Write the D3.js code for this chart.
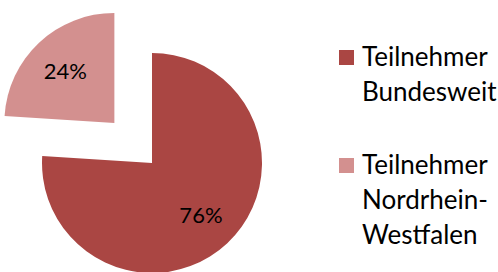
<!DOCTYPE html>
<html>
<head>
<meta charset="utf-8">
<script src="https://cdn.jsdelivr.net/npm/d3@7"></script>
<style>
  body { margin: 0; background: #fff; }
  svg { display: block; font-family: Lato, "Open Sans", sans-serif; }
</style>
</head>
<body>
<svg id="chart" width="498" height="272"></svg>
<script>
var categories = ["Teilnehmer Bundesweit", "Teilnehmer Nordrhein-Westfalen"];
var legendLines = [["Teilnehmer", "Bundesweit"], ["Teilnehmer", "Nordrhein-", "Westfalen"]];
var values = [76, 24];
var colors = ["#aa4643", "#d3908f"];
var exploded = [0, 55];

var svg;

var drawPie = function() {
    var radius = 110;
    var cx = 152, cy = 163;

    var pie = d3.pie().sort(null).value(function(d) { return d; });
    var arc = d3.arc().innerRadius(0).outerRadius(radius);
    var labelArc = d3.arc().innerRadius(radius * 0.65).outerRadius(radius * 0.65);
    var total = d3.sum(values);

    var g = svg.append("g").attr("transform", "translate(" + cx + "," + cy + ")");

    var slice = g.selectAll("g.slice")
	.data(pie(values))
	.enter().append("g")
	.attr("class", "slice")
	.attr("transform", function(d, i) {
	    var mid = (d.startAngle + d.endAngle) / 2;
	    var dx = Math.sin(mid) * exploded[i];
	    var dy = -Math.cos(mid) * exploded[i];
	    return "translate(" + dx + "," + dy + ")";
	});

    slice.append("path")
	.attr("d", arc)
	.attr("fill", function(d, i) { return colors[i]; });

    slice.append("text")
	.attr("transform", function(d) { return "translate(" + labelArc.centroid(d) + ")"; })
	.attr("text-anchor", "middle")
	.attr("dy", "0.36em")
	.attr("font-size", 22)
	.attr("fill", "#000")
	.text(function(d) { return Math.round(d.value / total * 100) + "%"; });
};

var drawLegend = function() {
    var tops = [50, 158];
    var item = svg.selectAll("g.legend")
	.data(categories)
	.enter().append("g")
	.attr("class", "legend")
	.attr("transform", function(d, i) { return "translate(339," + tops[i] + ")"; });

    item.append("rect")
	.attr("width", 15)
	.attr("height", 15)
	.attr("fill", function(d, i) { return colors[i]; });

    item.append("text")
	.attr("x", 23)
	.attr("y", 16)
	.attr("font-size", 26)
	.attr("fill", "#000")
	.selectAll("tspan")
	.data(function(d, i) { return legendLines[i]; })
	.enter().append("tspan")
	.attr("x", 23)
	.attr("dy", function(d, j) { return j == 0 ? 0 : 35; })
	.text(function(d) { return d; });
};

var setup = function() {
    svg = d3.select("#chart");
    drawPie();
    drawLegend();
};

window.onload = setup;
</script>
</body>
</html>
